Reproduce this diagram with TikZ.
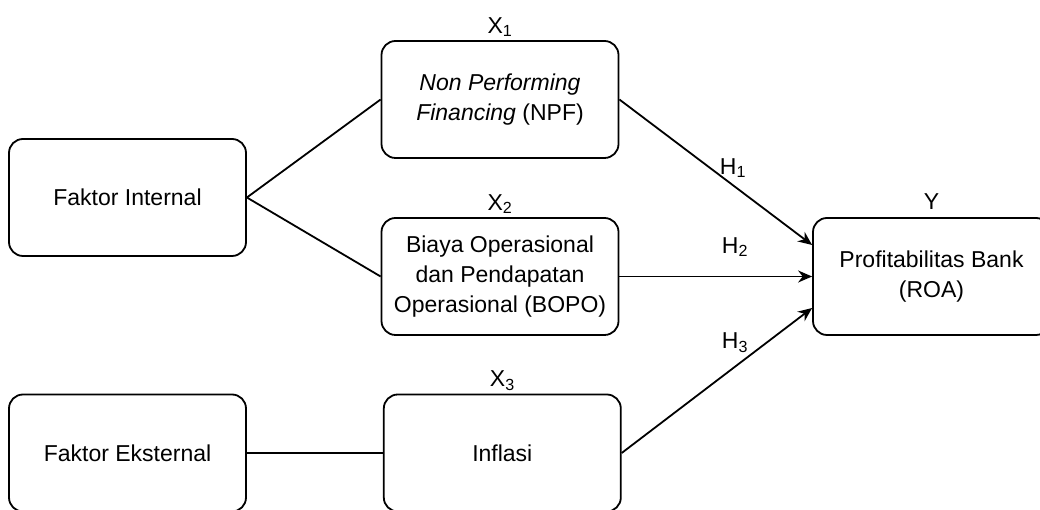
\documentclass[tikz,border=0pt]{standalone}
\usepackage{fontspec}
\setmainfont{Liberation Sans}
\usetikzlibrary{arrows.meta,positioning}

\begin{document}
\begin{tikzpicture}[x=1pt, y=1pt, node distance=136pt and 136pt,
    every node/.style={font=\fontsize{23}{30}\selectfont},
    box/.style={draw, line width=1.8pt, rounded corners=14pt, minimum width=237pt, minimum height=117pt, align=center},
    lbl/.style={inner sep=1pt},
    >={Stealth[length=14pt, width=12pt]}]
      \useasboundingbox (0,0) rectangle (1040,510);
      \node[box] (int) at (127.5,312.5) {Faktor Internal};
      \node[box] (npf) at (500,410.5) {\textit{Non Performing}\\\textit{Financing} (NPF)};
      \node[box] (bopo) at (500,233.5) {Biaya Operasional\\dan Pendapatan\\Operasional (BOPO)};
      \node[box] (eks) at (127.5,57) {Faktor Eksternal};
      \node[box] (inf) [right=of eks] {Inflasi};
      \node[box] (roa) at (931.5,233.5) {Profitabilitas Bank\\(ROA)};

      % variable labels
      \node[lbl] (x1) [above=2pt of npf] {X\textsubscript{1}};
      \node[lbl] (x2) [above=2pt of bopo] {X\textsubscript{2}};
      \node[lbl] (x3) [above=2pt of inf] {X\textsubscript{3}};
      \node[lbl] (y) [above=6pt of roa] {Y};
      \node[lbl] (h1) at (733,342) {H\textsubscript{1}};
      \node[lbl] (h2) at (735,263) {H\textsubscript{2}};
      \node[lbl] (h3) at (735,167) {H\textsubscript{3}};

      \draw[line width=1.8pt] (int.east) -- (npf.west);
      \draw[line width=1.8pt] (int.east) -- (bopo.west);
      \draw[line width=1.8pt] (eks) -- (inf);
      \draw[->, line width=1.8pt] (npf.east) -- ([yshift=31.5pt]roa.west);
      \draw[->, line width=1.8pt] (bopo) -- (roa);
      \draw[->, line width=1.8pt] (inf.east) -- ([yshift=-31.5pt]roa.west);
    \end{tikzpicture}
\end{document}
